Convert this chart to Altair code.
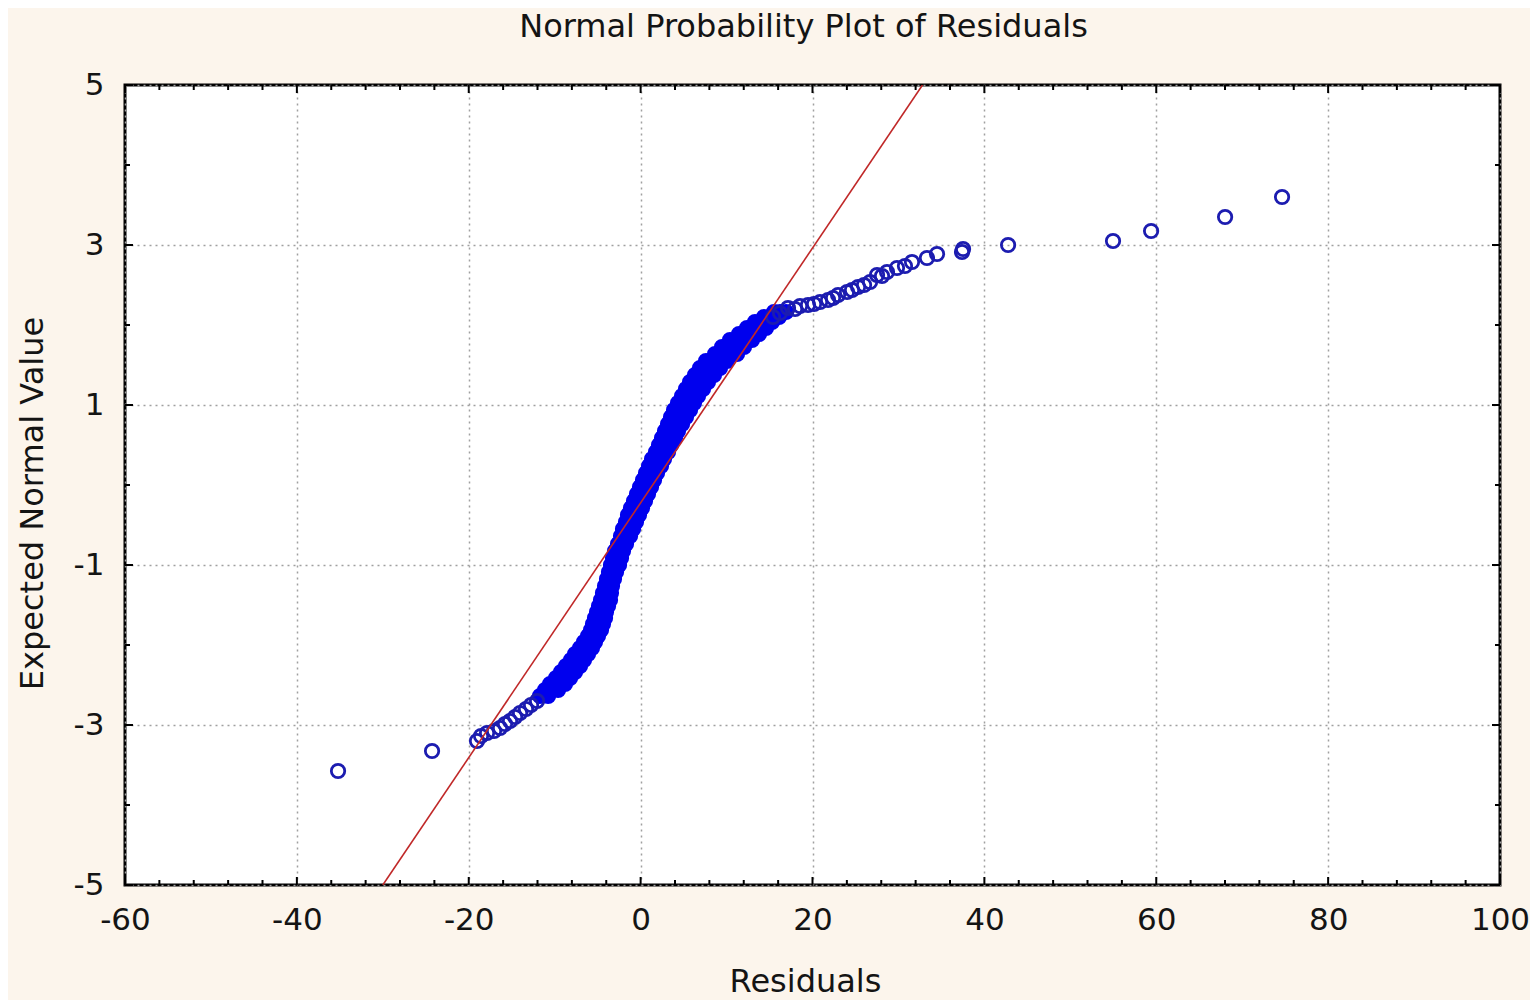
import altair as alt
import pandas as pd

# ---------------- data ----------------
# lower tail (Residuals, Expected Normal Value)
low_x = [-35.21, -24.27, -19.04, -18.57, -17.87, -17.06, -16.36, -15.78, -15.20,
         -14.61, -14.03, -13.34, -12.75, -12.05]
low_y = [-3.575, -3.325, -3.20, -3.1375, -3.10, -3.075, -3.0375, -2.9875, -2.95,
         -2.90, -2.85, -2.80, -2.75, -2.70]

# dense central band: expected normal values with left / right edge residuals
band_y = [-2.6375, -2.5625, -2.4875, -2.4125, -2.3375, -2.2625, -2.1875, -2.1125,
          -2.0375, -1.9625, -1.8875, -1.8125, -1.7375, -1.6625, -1.5875, -1.5125,
          -1.4375, -1.35, -1.2625, -1.175, -1.0875, -1.0, -0.9125, -0.825, -0.7375,
          -0.6375, -0.55, -0.4625, -0.375, -0.2875, -0.2, -0.1125, -0.025, 0.0625,
          0.15, 0.2375, 0.325, 0.4125, 0.5, 0.5875, 0.675, 0.7625, 0.85, 0.9375,
          1.025, 1.1125, 1.2, 1.2875, 1.375, 1.4625, 1.55, 1.6375, 1.725, 1.8125,
          1.8875, 1.9625, 2.0375, 2.1, 2.1625]
band_left_x = [-11.71, -11.12, -10.54, -9.84, -9.26, -8.68, -8.10, -7.63, -7.05,
               -6.59, -6.12, -5.77, -5.54, -5.31, -5.07, -4.84, -4.61, -4.38, -4.14,
               -3.91, -3.68, -3.45, -3.21, -2.98, -2.63, -2.28, -2.05, -1.70, -1.47,
               -1.12, -0.77, -0.42, -0.07, 0.28, 0.63, 0.98, 1.33, 1.79, 2.14, 2.49,
               2.84, 3.19, 3.54, 3.89, 4.35, 4.82, 5.28, 5.75, 6.33, 6.91, 7.61, 8.66,
               9.47, 10.40, 11.45, 12.38, 13.31, 14.36, 15.52]
band_right_x = [-10.77, -9.61, -8.80, -8.21, -7.63, -7.05, -6.59, -6.12, -5.66,
                -5.31, -4.96, -4.61, -4.38, -4.14, -4.03, -3.79, -3.56, -3.45, -3.33,
                -3.10, -2.86, -2.51, -2.28, -2.05, -1.70, -1.23, -0.88, -0.54, -0.19,
                0.16, 0.51, 0.86, 1.21, 1.56, 1.91, 2.37, 2.72, 3.19, 3.54, 4.00, 4.35,
                4.82, 5.28, 5.75, 6.21, 6.68, 7.26, 7.84, 8.54, 9.24, 10.05, 11.22,
                12.03, 12.96, 13.78, 14.59, 15.29, 16.10, 16.92]

# interior of the band where it is widest
mid_y = [-2.5625, -2.4875, -2.4125, -2.3375, -2.2625, -2.1875, -2.1125, -2.0375,
         0.2375, 0.325, 0.4125, 0.5, 0.5875, 0.675, 0.7625, 0.85, 0.9375, 1.025,
         1.1125, 1.2, 1.2875, 1.375, 1.4625, 1.55, 1.6375, 1.725, 1.8125, 1.8875,
         1.9625, 2.0375, 2.1, 2.1625]
mid_x = [-10.37, -9.67, -9.03, -8.45, -7.87, -7.35, -6.88, -6.36,
         1.68, 2.03, 2.49, 2.84, 3.25, 3.60, 4.01, 4.41, 4.82, 5.28,
         5.75, 6.27, 6.80, 7.44, 8.08, 8.83, 9.94, 10.75, 11.68, 12.62,
         13.49, 14.30, 15.23, 16.22]

# upper tail
high_x = [15.41, 16.22, 17.15, 17.97, 18.55, 19.48, 20.18, 20.88, 21.81, 22.39,
          22.97, 24.02, 24.60, 25.30, 26.00, 26.70, 27.51, 28.09, 28.67, 29.83,
          30.76, 31.58, 33.32, 34.49, 37.40, 37.52, 42.76, 54.97, 59.40, 68.01, 74.64]
high_y = [2.1, 2.15, 2.2125, 2.2, 2.2375, 2.25, 2.2625, 2.2875, 2.3125, 2.3375,
          2.375, 2.4125, 2.4375, 2.475, 2.5, 2.5375, 2.625, 2.6125, 2.6625, 2.7125,
          2.7375, 2.7875, 2.8375, 2.8875, 2.9125, 2.95, 3.0, 3.05, 3.175, 3.35, 3.6]

# reference normal line
line_x = [-30.0, 32.8]
line_y = [-5.0, 5.0]

# axes
x_major = [-60, -40, -20, 0, 20, 40, 60, 80, 100]
y_major = [-5, -3, -1, 1, 3, 5]
x_minor = [v for v in range(-56, 100, 4) if v % 20 != 0]
y_minor = [-4, -2, 0, 2, 4]

X_MIN, X_MAX, Y_MIN, Y_MAX = -60, 100, -5, 5

# ---------------- build tables ----------------
tails = pd.DataFrame({"x": low_x + high_x, "y": low_y + high_y})
band = pd.DataFrame({
    "x": band_left_x + band_right_x + mid_x,
    "y": band_y + band_y + mid_y,
})
line_df = pd.DataFrame({"x": line_x, "y": line_y})

W, H = 1375, 800
px_x = (X_MAX - X_MIN) / W   # data units per pixel
px_y = (Y_MAX - Y_MIN) / H
MAJ, MIN = 8, 5

vt_rows = []
for v in x_major + x_minor:
    L = MAJ if v in x_major else MIN
    vt_rows.append({"x": v, "y": Y_MIN, "y2": Y_MIN + L * px_y})
    vt_rows.append({"x": v, "y": Y_MAX, "y2": Y_MAX - L * px_y})
vt = pd.DataFrame(vt_rows)

ht_rows = []
for v in y_major + y_minor:
    L = MAJ if v in y_major else MIN
    ht_rows.append({"y": v, "x": X_MIN, "x2": X_MIN + L * px_x})
    ht_rows.append({"y": v, "x": X_MAX, "x2": X_MAX - L * px_x})
ht = pd.DataFrame(ht_rows)

FONT = "DejaVu Sans"
TXT = "#141414"

xscale = alt.Scale(domain=[X_MIN, X_MAX], nice=False, zero=False)
yscale = alt.Scale(domain=[Y_MIN, Y_MAX], nice=False, zero=False)

xaxis = alt.Axis(values=x_major, labelExpr="datum.value + ''", grid=True,
                 gridColor="#a0a0a0", gridDash=[2, 4], gridWidth=1.5,
                 ticks=False, domain=False, labelFontSize=31, labelFont=FONT,
                 labelColor=TXT, labelPadding=20, labelFlush=False,
                 title="Residuals", titleFont=FONT, titleFontSize=32,
                 titleFontWeight="normal", titleColor=TXT, titlePadding=31,
                 titleX=680)
yaxis = alt.Axis(values=y_major, labelExpr="datum.value + ''", grid=True,
                 gridColor="#a0a0a0", gridDash=[2, 4], gridWidth=1.5,
                 ticks=False, domain=False, labelFontSize=31, labelFont=FONT,
                 labelColor=TXT, labelPadding=21, labelFlush=False,
                 title="Expected Normal Value", titleFont=FONT, titleFontSize=32,
                 titleFontWeight="normal", titleColor=TXT, titlePadding=24,
                 titleY=418)

X = alt.X("x:Q", scale=xscale, axis=xaxis)
Y = alt.Y("y:Q", scale=yscale, axis=yaxis)

tail_pts = alt.Chart(tails).mark_point(
    shape="circle", filled=False, size=180, strokeWidth=2.8,
    color="#1c1cb0", opacity=1
).encode(x=X, y=Y)

band_pts = alt.Chart(band).mark_point(
    shape="circle", filled=True, size=180, fill="#0000ee", stroke="#0000ee",
    strokeWidth=2.8, opacity=1, fillOpacity=1
).encode(x=X, y=Y)

ref_line = alt.Chart(line_df).mark_line(
    color="#c02828", strokeWidth=1.6, clip=True
).encode(x=X, y=Y)

vticks = alt.Chart(vt).mark_rule(color="#000000", strokeWidth=2).encode(
    x=X, y=Y, y2="y2:Q")
hticks = alt.Chart(ht).mark_rule(color="#000000", strokeWidth=2).encode(
    x=X, y=Y, x2="x2:Q")

chart = alt.layer(band_pts, tail_pts, ref_line, vticks, hticks).properties(
    width=W, height=H,
    autosize=alt.AutoSizeParams(type="none"),
    padding={"left": 117, "top": 77, "right": 30, "bottom": 115},
    background="#fcf5ec",
    title=alt.TitleParams(
        "Normal Probability Plot of Residuals", font=FONT, fontSize=32,
        fontWeight="normal", color=TXT, anchor="middle", baseline="alphabetic",
        frame="group", offset=0, dx=-9),
).configure_view(
    fill="white", stroke="#000000", strokeWidth=3
)

chart.save("out.html", embed_options={"renderer": "svg", "actions": False})
